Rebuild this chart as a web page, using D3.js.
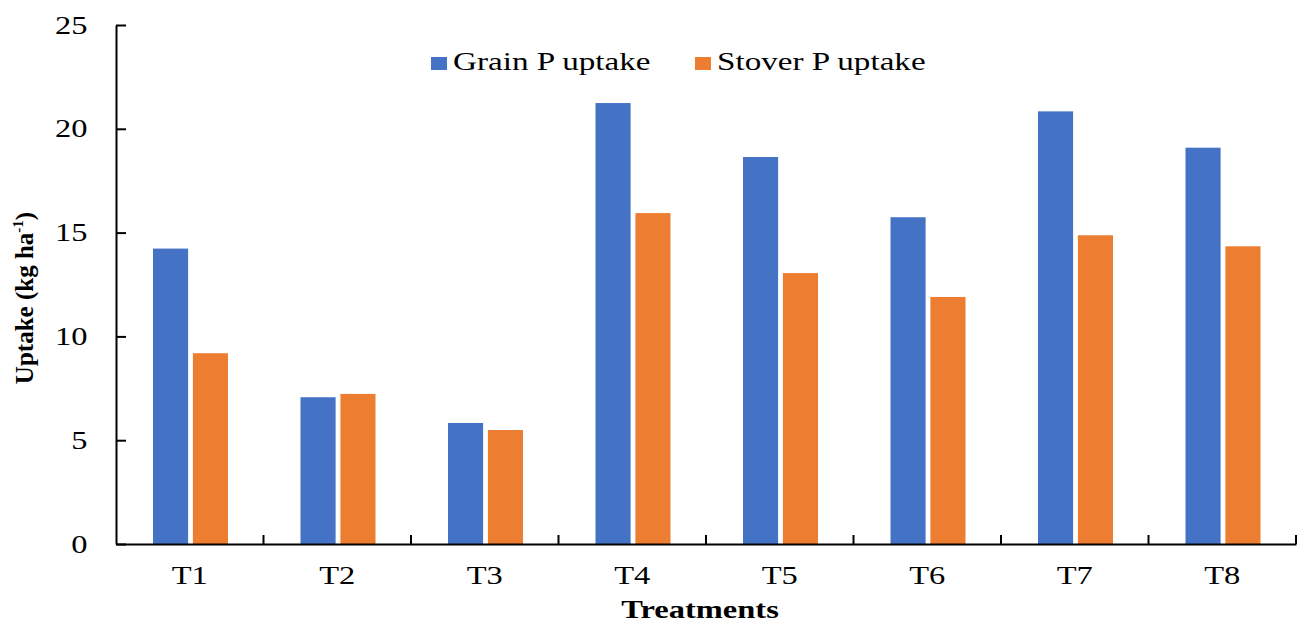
<!DOCTYPE html>
<html>
<head>
<meta charset="utf-8">
<script src="https://cdn.jsdelivr.net/npm/d3@7"></script>
<style>
  body { margin: 0; background: #fff; }
  svg text { font-family: "Liberation Serif", "Times New Roman", serif; fill: #000; }
</style>
</head>
<body>
<svg id="chart" width="1298" height="626"></svg>
<script>
// data
var treatments = ["T1", "T2", "T3", "T4", "T5", "T6", "T7", "T8"];
var grainP = [14.23, 7.07, 5.83, 21.24, 18.64, 15.74, 20.84, 19.09];
var stoverP = [9.19, 7.23, 5.49, 15.94, 13.05, 11.9, 14.87, 14.34];
var seriesNames = ["Grain P uptake", "Stover P uptake"];
var yTicks = [0, 5, 10, 15, 20, 25];

(function() {
  var colors = ["#4472C4", "#ED7D31"];
  var stretch = "scale(1.3,1)";   // the source picture is stretched sideways

  var svg = d3.select("#chart");
  var plot = { left: 116, right: 1296, top: 25, bottom: 544 };

  var x = d3.scaleBand().domain(treatments).range([plot.left, plot.right]);
  var y = d3.scaleLinear().domain([0, 25]).range([plot.bottom, plot.top]);
  var inner = d3.scaleBand().domain([0, 1]).range([37, 112]).paddingInner(0.12);

  var rows = treatments.map(function(t, i) { return { key: t, vals: [grainP[i], stoverP[i]] }; });

  //bars
  var groups = svg.append("g").selectAll("g")
    .data(rows).enter().append("g")
      .attr("transform", function(d) { return "translate(" + x(d.key) + ",0)"; });
  groups.selectAll("rect")
    .data(function(d) { return d.vals; })
    .enter().append("rect")
      .attr("x", function(v, i) { return inner(i); })
      .attr("width", inner.bandwidth())
      .attr("y", function(v) { return y(v); })
      .attr("height", function(v) { return plot.bottom - y(v); })
      .attr("fill", function(v, i) { return colors[i]; });

  //y axis, ticks point inwards
  var yAxis = svg.append("g")
    .attr("transform", "translate(" + plot.left + ",0)")
    .call(d3.axisLeft(y).tickValues(yTicks).tickSize(-10).tickSizeOuter(0).tickPadding(22));
  yAxis.selectAll("text").style("font-size", "25px").attr("transform", stretch);

  //x axis, ticks sit between categories
  var xAxis = svg.append("g")
    .attr("transform", "translate(0," + plot.bottom + ")")
    .call(d3.axisBottom(x).tickSize(0).tickPadding(40));
  xAxis.selectAll("text").style("font-size", "25px").attr("dy", "0").attr("transform", stretch);
  xAxis.selectAll(".sep")
    .data(treatments).enter().append("line")
      .attr("class", "sep")
      .attr("x1", function(t) { return x(t) + x.bandwidth(); })
      .attr("x2", function(t) { return x(t) + x.bandwidth(); })
      .attr("y1", 0).attr("y2", -9)
      .attr("stroke", "#000").attr("stroke-width", 2);

  svg.selectAll(".domain, .tick line").attr("stroke", "#000").attr("stroke-width", 2);

  //axis titles
  svg.append("text")
    .attr("transform", "translate(33,298) rotate(-90)")
    .attr("text-anchor", "middle")
    .style("font-size", "25px").style("font-weight", "bold")
    .html('Uptake (kg ha<tspan dy="-10" font-size="15px">-1</tspan><tspan dy="10">)</tspan>');

  svg.append("text")
    .attr("transform", "translate(700,618) " + stretch)
    .attr("text-anchor", "middle")
    .style("font-size", "25px").style("font-weight", "bold")
    .text("Treatments");

  //legend
  var legendX = [431, 695];
  var legend = svg.append("g").selectAll("g")
    .data(seriesNames).enter().append("g")
      .attr("transform", function(d, i) { return "translate(" + legendX[i] + ",57)"; });
  legend.append("rect")
    .attr("width", 16).attr("height", 13)
    .attr("fill", function(d, i) { return colors[i]; });
  legend.append("text")
    .attr("transform", "translate(22,13) " + stretch)
    .style("font-size", "25.5px")
    .text(function(d) { return d; });
})();
</script>
</body>
</html>
